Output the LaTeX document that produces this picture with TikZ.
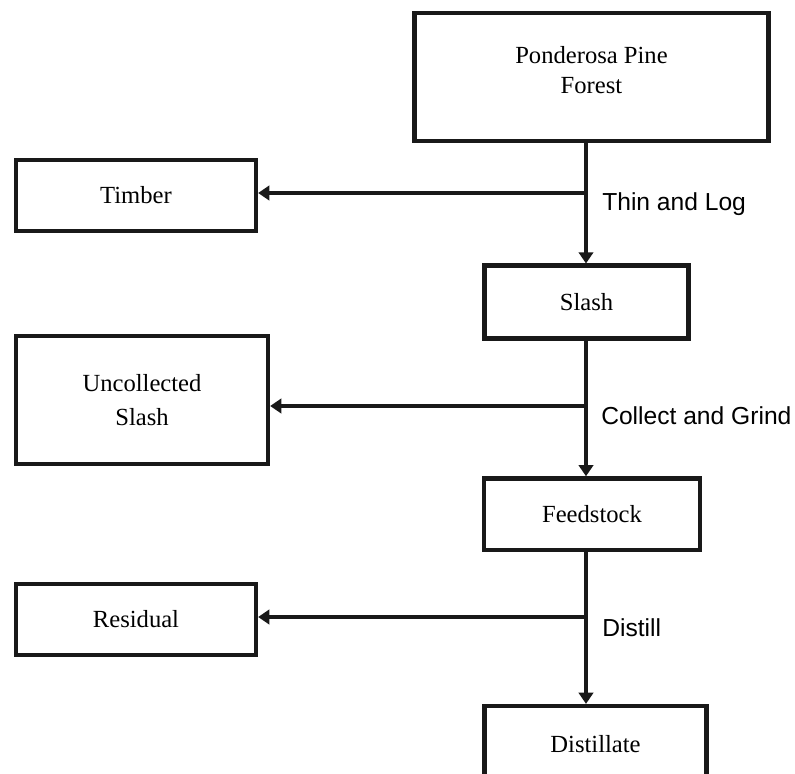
\documentclass[tikz,border=0pt]{standalone}
\usepackage{fontspec}
\setmainfont{Liberation Serif}
\newfontfamily\stepfont{Liberation Sans}
\usetikzlibrary{arrows.meta}

\begin{document}
\begin{tikzpicture}[x=0.025cm, y=-0.025cm,
    box/.style={draw=black!90, line width=3pt, align=center, inner sep=0pt,
        font=\fontsize{17.5}{21.5}\selectfont},
    flow/.style={draw=black!90, line width=3pt, -{Triangle[length=0.28cm,width=0.36cm]}},
    steplabel/.style={anchor=west, inner sep=0pt, font=\stepfont\fontsize{17.5}{21}\selectfont}]
    \useasboundingbox (0,0) rectangle (795,774);

    \node (forest) at (591.5,77) [box, minimum width=8.85cm, minimum height=3.2cm, text depth=0.35cm] {Ponderosa Pine\\Forest};
    \node (timber) at (136,195.5) [box, minimum width=6cm, minimum height=1.78cm] {Timber};
    \node (slash) at (586.5,302) [box, minimum width=5.1cm, minimum height=1.82cm] {Slash};
    \node (uncollected) at (142,400) [box, minimum width=6.3cm, minimum height=3.2cm] {Uncollected\\[3pt]Slash};
    \node (feedstock) at (592,514) [box, minimum width=5.4cm, minimum height=1.78cm] {Feedstock};
    \node (residual) at (136,619.5) [box, minimum width=6cm, minimum height=1.78cm] {Residual};
    \node (distillate) at (595.5,744) [box, minimum width=5.55cm, minimum height=1.9cm] {Distillate};

    \coordinate (j1) at (586,193);
    \coordinate (j2) at (586,406);
    \coordinate (j3) at (586,617);

    \draw [flow] (forest.south -| j1) -- (slash.north -| j1);
    \draw [flow] (j1) -- (timber.east |- j1);
    \draw [flow] (slash.south -| j2) -- (feedstock.north -| j2);
    \draw [flow] (j2) -- (uncollected.east |- j2);
    \draw [flow] (feedstock.south -| j3) -- (distillate.north -| j3);
    \draw [flow] (j3) -- (residual.east |- j3);

    \node (thin) at (602,204) [steplabel] {Thin and Log};
    \node (collect) at (601,416) [steplabel] {Collect and Grind};
    \node (distill) at (602,628) [steplabel] {Distill};
\end{tikzpicture}
\end{document}
